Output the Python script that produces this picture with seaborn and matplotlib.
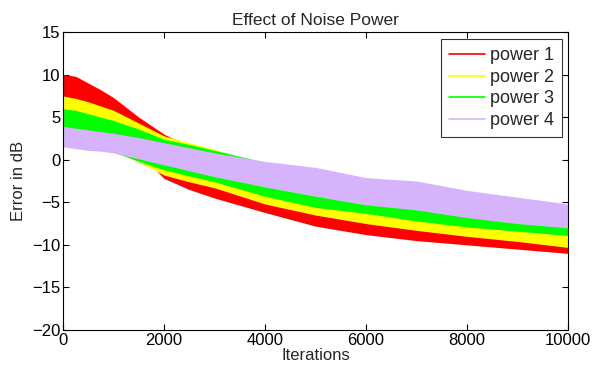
import matplotlib
matplotlib.use("Agg")
import matplotlib.pyplot as plt
from matplotlib.lines import Line2D
import seaborn as sns
import pandas as pd

# Checkpoints (iterations) and bulk envelopes (dB)
iterations = [0, 250, 500, 750, 1000, 1500, 2000, 2500, 3000, 4000, 5000, 6000, 7000, 8000, 9000, 10000]

p1_low  = [6.8, 6.3, 5.6, 4.6, 3.5, 0.8, -2.2, -3.5, -4.5, -6.2, -7.8, -8.8, -9.5, -10.0, -10.5, -11.0]
p1_high = [10.0, 9.8, 9.0, 8.2, 7.3, 5.0, 3.0, 1.6, 0.4, -1.3, -3.0, -4.5, -5.5, -6.3, -7.0, -8.0]

p2_low  = [4.0, 3.5, 2.8, 2.0, 1.2, -0.3, -1.8, -2.6, -3.3, -5.2, -6.5, -7.5, -8.3, -9.0, -9.6, -10.3]
p2_high = [7.5, 7.2, 6.8, 6.3, 5.8, 4.3, 2.8, 2.0, 1.2, -0.6, -1.4, -2.6, -3.0, -4.1, -4.8, -5.7]

p3_low  = [2.6, 2.3, 1.9, 1.4, 0.9, -0.2, -1.2, -1.9, -2.6, -4.3, -5.6, -6.3, -7.2, -7.9, -8.4, -8.9]
p3_high = [6.0, 5.8, 5.4, 5.0, 4.6, 3.6, 2.4, 1.8, 1.1, -0.3, -1.0, -2.3, -2.7, -3.8, -4.5, -5.4]

p4_low  = [1.5, 1.3, 1.1, 1.0, 0.8, 0.1, -0.6, -1.3, -2.0, -3.2, -4.3, -5.3, -5.9, -6.8, -7.5, -8.0]
p4_high = [3.9, 3.7, 3.5, 3.3, 3.1, 2.6, 2.0, 1.4, 0.8, -0.2, -0.9, -2.1, -2.5, -3.6, -4.4, -5.2]

labels = ["power 1", "power 2", "power 3", "power 4"]
colors = ["#FF0000", "#FFFF00", "#00FF00", "#D6B4FC"]

rows = []
for lab, lo, hi in zip(labels, [p1_low, p2_low, p3_low, p4_low],
                       [p1_high, p2_high, p3_high, p4_high]):
    for it, a, b in zip(iterations, lo, hi):
        rows.append({"Iterations": it, "Error": a, "series": lab})
        rows.append({"Iterations": it, "Error": b, "series": lab})
df = pd.DataFrame(rows)

sns.set_style("ticks")
plt.rcParams["font.family"] = ["Liberation Sans", "DejaVu Sans"]

fig = plt.figure(figsize=(5.93, 3.73), dpi=100)
ax = fig.add_axes([63/593, 43/373, 505/593, 298/373])

sns.lineplot(data=df, x="Iterations", y="Error", hue="series",
             hue_order=labels, palette=colors, errorbar=("pi", 100),
             err_kws={"alpha": 1.0, "linewidth": 0}, linewidth=0,
             legend=False, ax=ax)

ax.set_xlim(0, 10000)
ax.set_ylim(-20, 15)
ax.set_xticks([0, 2000, 4000, 6000, 8000, 10000])
ax.set_yticks([-20, -15, -10, -5, 0, 5, 10, 15])
ax.tick_params(direction="in", top=True, right=True, labelsize=12,
               length=4, width=0.8, colors="black", pad=2)
for s in ax.spines.values():
    s.set_visible(True)
    s.set_color("black")
    s.set_linewidth(0.8)

ax.set_xlabel("Iterations", fontsize=12, labelpad=0)
ax.set_ylabel("Error in dB", fontsize=12, labelpad=4)
ax.set_title("Effect of Noise Power", fontsize=12.5, pad=5)

handles = [Line2D([0], [0], color=c, linewidth=1.2) for c in colors]
leg = ax.legend(handles, labels, loc="upper right", bbox_to_anchor=(0.9875, 0.9755),
                borderaxespad=0, fontsize=13, frameon=True, fancybox=False,
                handlelength=2.0, borderpad=0.45, labelspacing=0.25,
                handletextpad=0.25)
leg.get_frame().set_edgecolor("black")
leg.get_frame().set_linewidth(0.8)

fig.savefig("out.png", dpi=100)
